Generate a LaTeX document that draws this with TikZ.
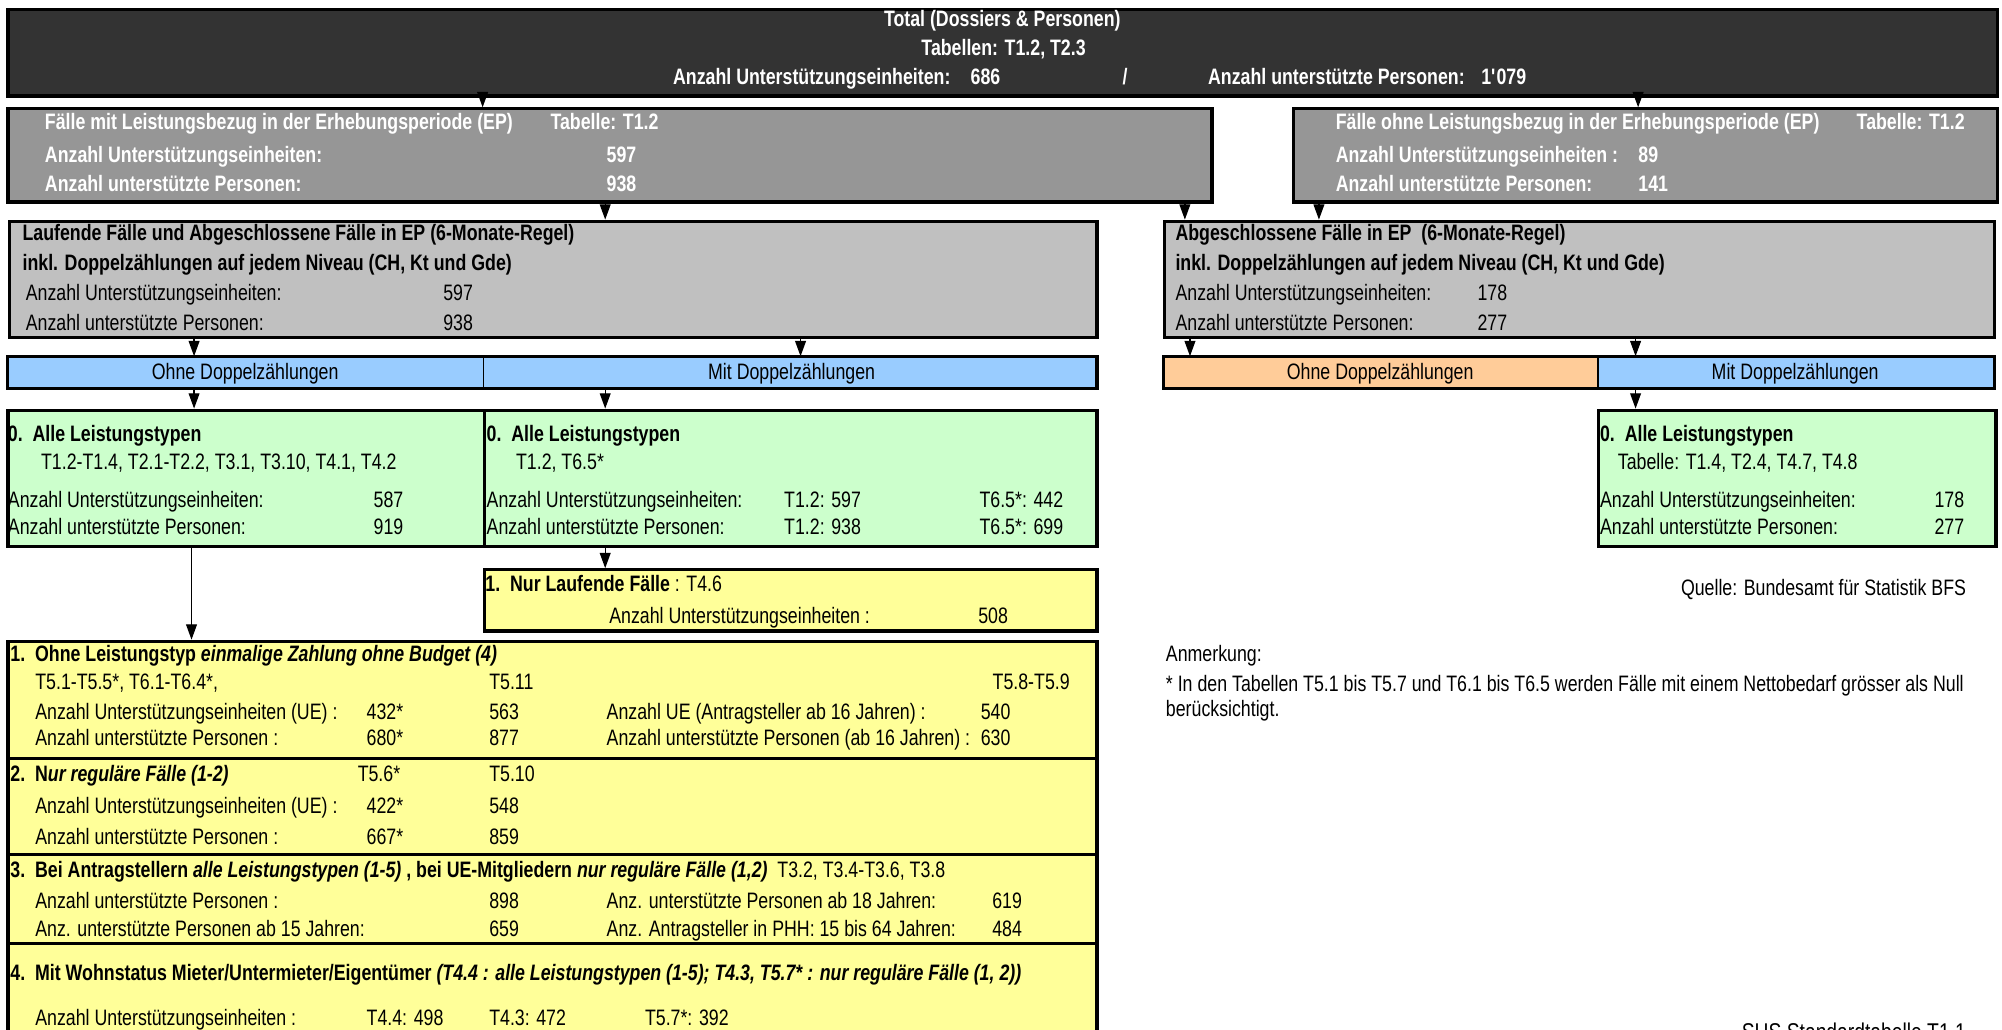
\documentclass[tikz,border=0pt]{standalone}
\usepackage{fontspec}
\setmainfont{Liberation Sans}[FakeStretch=0.795]
\usetikzlibrary{arrows.meta}
\definecolor{dk}{HTML}{333333}
\definecolor{gm}{HTML}{969696}
\definecolor{gl}{HTML}{C0C0C0}
\definecolor{bl}{HTML}{99CCFF}
\definecolor{orng}{HTML}{FFCC99}
\definecolor{grn}{HTML}{CCFFCC}
\definecolor{ylw}{HTML}{FFFF99}
\newcommand{\fsz}{\fontsize{17.5}{20}\selectfont}
\tikzset{
  boxs/.style={draw=black, line width=2.5pt, rectangle, inner sep=0pt, anchor=north west},
  thinbox/.style={draw=black, line width=1.2pt, rectangle, inner sep=0pt, anchor=north west},
  tx/.style={anchor=base west, yshift=-6.2pt, inner sep=0pt, font=\fsz, text=black},
  txr/.style={anchor=base east, yshift=-6.2pt, inner sep=0pt, font=\fsz, text=black},
  txc/.style={anchor=base, yshift=-6.2pt, inner sep=0pt, font=\fsz, text=black},
  wt/.style={text=white, font=\fsz\bfseries},
  arr/.style={line width=1pt, -{Triangle[length=12pt,width=8.5pt]}},
}
\newcommand{\mkbox}[7]{\node[#7, fill=#6, minimum width={#4-#2}, minimum height={#5-#3}] (#1) at (#2,#3) {};}
\newcommand{\txl}[5][]{\node[tx,#1] (#2) at (#3,#4) {#5};}
\newcommand{\txrr}[5][]{\node[txr,#1] (#2) at (#3,#4) {#5};}
\newcommand{\txcc}[5][]{\node[txc,#1] (#2) at (#3,#4) {#5};}
\begin{document}
\begin{tikzpicture}[x=1pt,y=-1pt]
\fill[white] (0,0) rectangle (1568,806);
\useasboundingbox (0,0) rectangle (1568,806);
\begin{scope}
\clip (0,0) rectangle (1568,806);
% boxes
\mkbox{top}{5}{6}{1563}{74}{dk}{boxs}
\mkbox{gaL}{5}{84}{948}{157}{gm}{boxs}
\mkbox{gaR}{1012}{84}{1563}{157}{gm}{boxs}
\mkbox{gbL}{6}{172}{858}{263}{gl}{boxs}
\mkbox{gbR}{911}{172}{1561}{263}{gl}{boxs}
\mkbox{bLa}{6}{279}{378}{303}{bl}{thinbox}
\mkbox{bLb}{378}{279}{858}{303}{bl}{thinbox}
\draw[line width=2.5pt] (bLa.north west) rectangle (bLb.south east);
\mkbox{oR}{911}{279}{1251}{303}{orng}{thinbox}
\mkbox{bR}{1251}{279}{1561}{303}{bl}{thinbox}
\draw[line width=2.5pt] (oR.north west) rectangle (bR.south east);
\mkbox{grA}{5}{320}{378}{427}{grn}{boxs}
\mkbox{grB}{378}{320}{858}{427}{grn}{boxs}
\mkbox{grC}{1251}{320}{1562}{427}{grn}{boxs}
\mkbox{yL}{378}{445}{858}{493}{ylw}{boxs}
\mkbox{yA}{5}{501}{858}{593}{ylw}{boxs}
\mkbox{yB}{5}{593}{858}{668}{ylw}{boxs}
\mkbox{yC}{5}{668}{858}{738}{ylw}{boxs}
\mkbox{yD}{5}{738}{858}{850}{ylw}{boxs}
% arrows
\draw[arr] (top.south -| 378,0) -- (gaL.north -| 378,0);
\draw[arr] (top.south -| 1283,0) -- (gaR.north -| 1283,0);
\draw[arr] (gaL.south -| 474,0) -- (gbL.north -| 474,0);
\draw[arr] (gaL.south -| 928,0) -- (gbR.north -| 928,0);
\draw[arr] (gaR.south -| 1033,0) -- (gbR.north -| 1033,0);
\draw[arr] (gbL.south -| 152,0) -- (bLa.north -| 152,0);
\draw[arr] (gbL.south -| 627,0) -- (bLb.north -| 627,0);
\draw[arr] (gbR.south -| 932,0) -- (oR.north -| 932,0);
\draw[arr] (gbR.south -| 1281,0) -- (bR.north -| 1281,0);
\draw[arr] (bLa.south -| 152,0) -- (grA.north -| 152,0);
\draw[arr] (bLb.south -| 474,0) -- (grB.north -| 474,0);
\draw[arr] (bR.south -| 1281,0) -- (grC.north -| 1281,0);
\draw[arr] (grB.south -| 474,0) -- (yL.north -| 474,0);
\draw[arr] (grA.south -| 150,0) -- (yA.north -| 150,0);
% top texts
\txcc[wt]{t1}{785}{14.5}{Total (Dossiers \& Personen)}
\txcc[wt]{t2}{786}{37.5}{Tabellen: T1.2, T2.3}
\txl[wt]{t3}{527}{60}{Anzahl Unterstützungseinheiten:}
\txl[wt]{t4}{760}{60}{686}
\txl[wt]{t5}{879}{60}{/}
\txl[wt]{t6}{946}{60}{Anzahl unterstützte Personen:}
\txl[wt]{t7}{1160}{60}{1\textquotesingle 079}
% gray A left
\txl[wt]{a1}{35}{95}{Fälle mit Leistungsbezug in der Erhebungsperiode (EP)}
\txl[wt]{a2}{431}{95}{Tabelle: T1.2}
\txl[wt]{a3}{35}{121}{Anzahl Unterstützungseinheiten:}
\txl[wt]{a4}{475}{121}{597}
\txl[wt]{a5}{35}{144}{Anzahl unterstützte Personen:}
\txl[wt]{a6}{475}{144}{938}
% gray A right
\txl[wt]{b1}{1046}{95}{Fälle ohne Leistungsbezug in der Erhebungsperiode (EP)}
\txl[wt]{b2}{1454}{95}{Tabelle: T1.2}
\txl[wt]{b3}{1046}{121}{Anzahl Unterstützungseinheiten :}
\txl[wt]{b4}{1283}{121}{89}
\txl[wt]{b5}{1046}{144}{Anzahl unterstützte Personen:}
\txl[wt]{b6}{1283}{144}{141}
% gray B left
\txl[font=\fsz\bfseries]{c1}{17.5}{182}{Laufende Fälle und Abgeschlossene Fälle in EP (6-Monate-Regel)}
\txl[font=\fsz\bfseries]{c2}{17.5}{206}{inkl. Doppelzählungen auf jedem Niveau (CH, Kt und Gde)}
\txl{c3}{20}{229.5}{Anzahl Unterstützungseinheiten:}
\txl{c4}{347}{229.5}{597}
\txl{c5}{20}{253}{Anzahl unterstützte Personen:}
\txl{c6}{347}{253}{938}
% gray B right
\txl[font=\fsz\bfseries]{d1}{920.5}{182}{Abgeschlossene Fälle in EP\ \ (6-Monate-Regel)}
\txl[font=\fsz\bfseries]{d2}{920.5}{206}{inkl. Doppelzählungen auf jedem Niveau (CH, Kt und Gde)}
\txl{d3}{920.5}{229.5}{Anzahl Unterstützungseinheiten:}
\txl{d4}{1157}{229.5}{178}
\txl{d5}{920.5}{253}{Anzahl unterstützte Personen:}
\txl{d6}{1157}{253}{277}
% bars
\txcc{e1}{192}{291}{Ohne Doppelzählungen}
\txcc{e2}{620}{291}{Mit Doppelzählungen}
\txcc{e3}{1081}{291}{Ohne Doppelzählungen}
\txcc{e4}{1406}{291}{Mit Doppelzählungen}
% green A
\txl[font=\fsz\bfseries]{f1}{6}{339.3}{0.\ \ Alle Leistungstypen}
\txl{f2}{32}{361.6}{T1.2-T1.4, T2.1-T2.2, T3.1, T3.10, T4.1, T4.2}
\txl{f3}{6}{391.6}{Anzahl Unterstützungseinheiten:}
\txl{f4}{292.5}{391.6}{587}
\txl{f5}{6}{412.5}{Anzahl unterstützte Personen:}
\txl{f6}{292.5}{412.5}{919}
% green B
\txl[font=\fsz\bfseries]{g1}{381}{339.3}{0.\ \ Alle Leistungstypen}
\txl{g2}{404}{361.6}{T1.2, T6.5*}
\txl{g3}{381}{391.6}{Anzahl Unterstützungseinheiten:}
\txl{g4}{614}{391.6}{T1.2: 597}
\txl{g5}{767}{391.6}{T6.5*: 442}
\txl{g6}{381}{412.5}{Anzahl unterstützte Personen:}
\txl{g7}{614}{412.5}{T1.2: 938}
\txl{g8}{767}{412.5}{T6.5*: 699}
% green C
\txl[font=\fsz\bfseries]{h1}{1253}{339.3}{0.\ \ Alle Leistungstypen}
\txl{h2}{1267}{361.6}{Tabelle: T1.4, T2.4, T4.7, T4.8}
\txl{h3}{1253}{391.6}{Anzahl Unterstützungseinheiten:}
\txl{h4}{1515}{391.6}{178}
\txl{h5}{1253}{412.5}{Anzahl unterstützte Personen:}
\txl{h6}{1515}{412.5}{277}
% yellow small
\txl{i1}{380}{457}{\textbf{1.\ \ Nur Laufende Fälle} : T4.6}
\txl{i2}{477}{482}{Anzahl Unterstützungseinheiten :}
\txl{i3}{766}{482}{508}
\txrr{q1}{1540}{460}{Quelle: Bundesamt für Statistik BFS}
% yellow section 1
\txl{j1}{8}{511.6}{\textbf{1.\ \ Ohne Leistungstyp \textit{einmalige Zahlung ohne Budget (4)}}}
\txl{j2}{27.5}{534}{T5.1-T5.5*, T6.1-T6.4*,}
\txl{j3}{383}{534}{T5.11}
\txrr{j4}{838}{534}{T5.8-T5.9}
\txl{j5}{27.5}{557}{Anzahl Unterstützungseinheiten (UE) :}
\txl{j6}{287}{557}{432*}
\txl{j7}{383}{557}{563}
\txl{j8}{475}{557}{Anzahl UE (Antragsteller ab 16 Jahren) :}
\txl{j9}{768}{557}{540}
\txl{j10}{27.5}{578}{Anzahl unterstützte Personen :}
\txl{j11}{287}{578}{680*}
\txl{j12}{383}{578}{877}
\txl{j13}{475}{578}{Anzahl unterstützte Personen (ab 16 Jahren) :}
\txl{j14}{768}{578}{630}
% yellow section 2
\txl{k1}{8}{605.6}{\textbf{2.\ \ N\textit{ur reguläre Fälle (1-2)}}}
\txl{k2}{280}{605.6}{T5.6*}
\txl{k3}{383}{605.6}{T5.10}
\txl{k4}{27.5}{631}{Anzahl Unterstützungseinheiten (UE) :}
\txl{k5}{287}{631}{422*}
\txl{k6}{383}{631}{548}
\txl{k7}{27.5}{655}{Anzahl unterstützte Personen :}
\txl{k8}{287}{655}{667*}
\txl{k9}{383}{655}{859}
% yellow section 3
\txl{l1}{8}{681.4}{\textbf{3.\ \ Bei Antragstellern \textit{alle Leistungstypen (1-5)} , bei UE-Mitgliedern \textit{nur reguläre Fälle (1,2)}}\ \ T3.2, T3.4-T3.6, T3.8}
\txl{l2}{27.5}{705}{Anzahl unterstützte Personen :}
\txl{l3}{383}{705}{898}
\txl{l4}{475}{705}{Anz. unterstützte Personen ab 18 Jahren:}
\txl{l5}{777}{705}{619}
\txl{l6}{27.5}{727}{Anz. unterstützte Personen ab 15 Jahren:}
\txl{l7}{383}{727}{659}
\txl{l8}{475}{727}{Anz. Antragsteller in PHH: 15 bis 64 Jahren:}
\txl{l9}{777}{727}{484}
% yellow section 4
\txl{m1}{8}{761.5}{\textbf{4.\ \ Mit Wohnstatus Mieter/Untermieter/Eigentümer \textit{(T4.4 : alle Leistungstypen (1-5); T4.3, T5.7* : nur reguläre Fälle (1, 2))}}}
\txl{m2}{27.5}{797}{Anzahl Unterstützungseinheiten :}
\txl{m3}{287}{797}{T4.4: 498}
\txl{m4}{383}{797}{T4.3: 472}
\txl{m5}{505}{797}{T5.7*: 392}
% notes
\txl{n1}{913}{511.7}{Anmerkung:}
\txl{n2}{913}{535}{* In den Tabellen T5.1 bis T5.7 und T6.1 bis T6.5 werden Fälle mit einem Nettobedarf grösser als Null}
\txl{n3}{913}{555}{berücksichtigt.}
\txl[font=\fontsize{19}{22}\selectfont]{n4}{1364}{809}{SHS Standardtabelle T1.1}
\end{scope}
\end{tikzpicture}
\end{document}
